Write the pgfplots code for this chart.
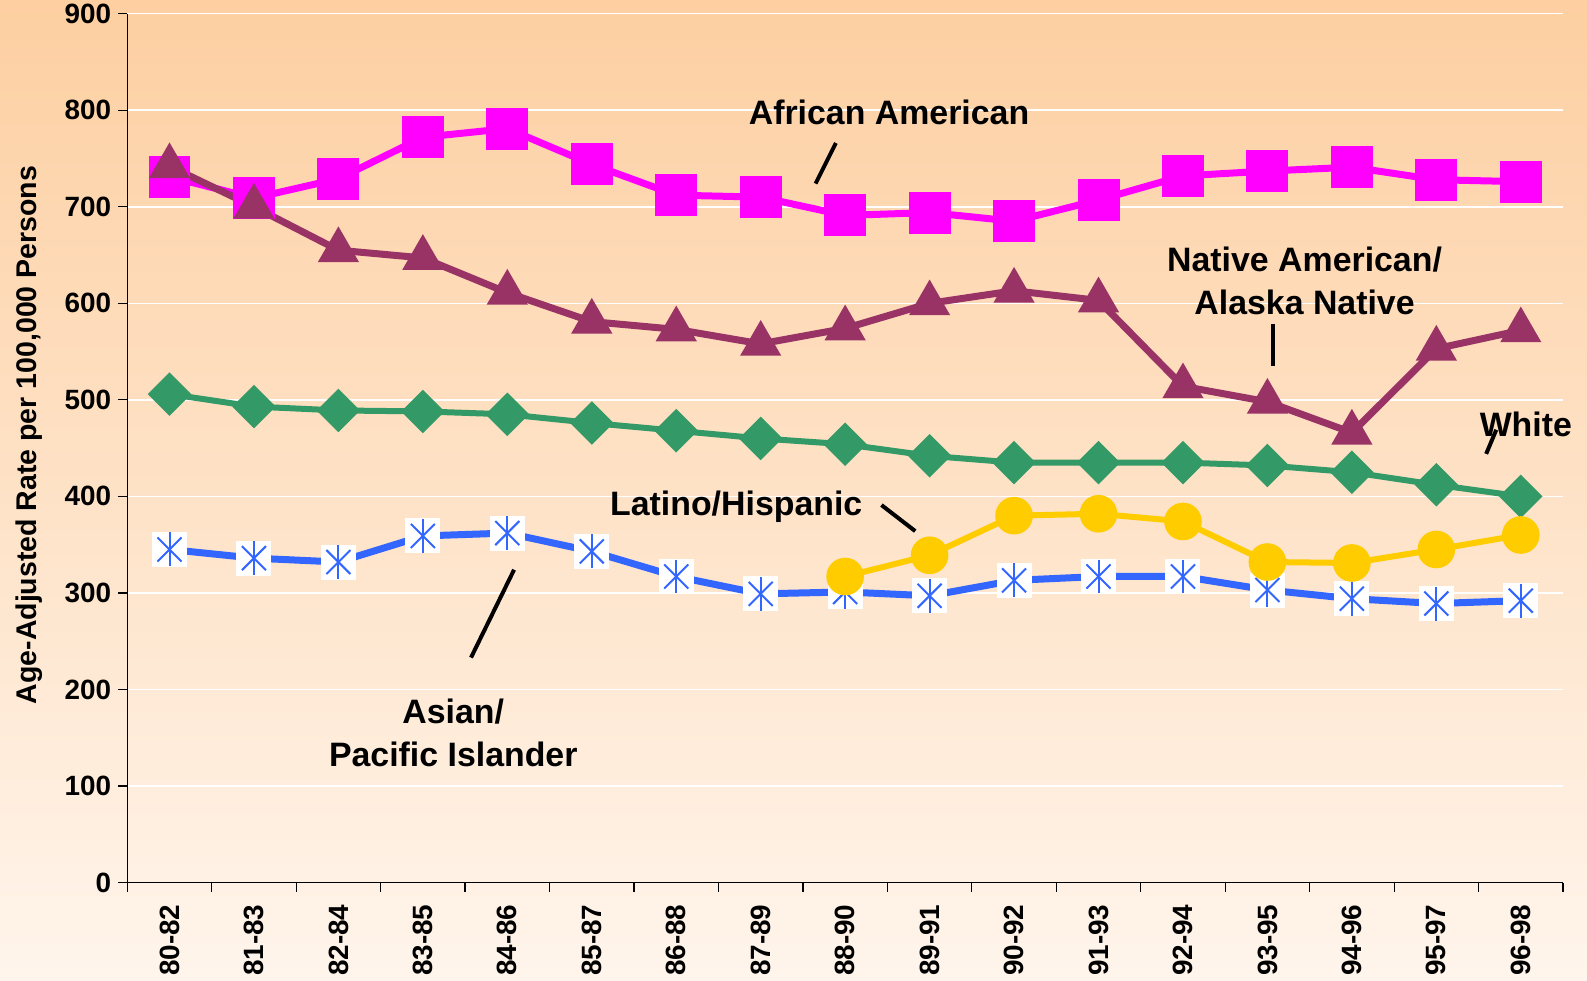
\documentclass[border=0pt]{standalone}
\usepackage{pgfplots}
\usepackage{pgfplotstable}
\pgfplotsset{compat=1.18}
\usepackage{fontspec}
\setmainfont{Liberation Sans}
\usetikzlibrary{backgrounds}
\definecolor{afam}{RGB}{255,0,255}
\definecolor{natam}{RGB}{153,51,102}
\definecolor{whcol}{RGB}{51,153,102}
\definecolor{latcol}{RGB}{255,204,0}
\definecolor{ascol}{RGB}{51,102,255}
\definecolor{bgtop}{RGB}{253,207,161}
\definecolor{bgbot}{RGB}{255,245,236}

\pgfplotstableread{
x aa na wh as
0 731 742 506 345
1 709 700 493 336
2 729 655 489 332
3 772 647 488 359
4 781 611 485 362
5 744 581 476 343
6 712 573 468 317
7 710 558 460 299
8 691 574 454 301
9 694 600 442 297
10 685 613 435 313
11 707 603 435 317
12 732 514 435 317
13 737 498 432 303
14 741 466 425 294
15 728 553 412 289
16 726 572 400 292
}\maindata
\pgfplotstableread{
x lat
8 317
9 339
10 380
11 382
12 374
13 332
14 331
15 345
16 360
}\latdata

\begin{document}
\begin{tikzpicture}
\begin{axis}[
  scale only axis, width=718bp, height=434.5bp,
  xmin=-0.5, xmax=16.5, ymin=0, ymax=900,
  clip=false,
  axis x line*=bottom, axis y line*=left,
  axis line style={-, black, line width=0.6bp},
  xtick={0,...,16},
  xticklabels={80-82,81-83,82-84,83-85,84-86,85-87,86-88,87-89,88-90,89-91,90-92,91-93,92-94,93-95,94-96,95-97,96-98},
  major x tick style={draw=none},
  minor xtick={-0.5,0.5,...,16.5},
  ytick={0,100,...,900},
  ymajorgrids, major grid style={white, line width=0.75bp},
  tick align=outside, major tick length=4.5bp, minor tick length=4.5bp,
  tick style={black, line width=0.6bp},
  /pgf/number format/assume math mode=true,
  yticklabel style={font=\bfseries\fontsize{14}{16}\selectfont},
  xticklabel style={rotate=90, anchor=east, xshift=-3bp, font=\bfseries\fontsize{14}{16}\selectfont},
]
\coordinate (sw) at (rel axis cs:0,0);
\coordinate (ne) at (rel axis cs:1,1);

% Asian / Pacific Islander
\addplot[ascol, line width=3.5bp, mark=none] table[x=x,y=as]{\maindata};
\addplot[white, only marks, mark=square*, mark size=8.5bp, mark options={fill=white, draw=white, line width=0pt}] table[x=x,y=as]{\maindata};
\addplot[only marks, ascol, mark=x, mark size=8.5bp, mark options={line width=1bp}] table[x=x,y=as]{\maindata};
\addplot[only marks, ascol, mark=|, mark size=8.5bp, mark options={line width=1bp}] table[x=x,y=as]{\maindata};
% White
\addplot[whcol, line width=3bp, mark=square*, mark size=6.2bp, mark options={rotate=45, solid, draw=none, fill=whcol}] table[x=x,y=wh]{\maindata};
% Latino
\addplot[latcol, line width=3bp, mark=*, mark size=7.9bp, mark options={draw=none, fill=latcol}] table[x=x,y=lat]{\latdata};
% African American
\addplot[afam, line width=3.5bp, mark=square*, mark size=8.75bp, mark options={draw=none, fill=afam}] table[x=x,y=aa]{\maindata};
% Native American
\addplot[natam, line width=3.5bp, mark=triangle*, mark size=8.4bp, mark options={draw=none, fill=natam}] table[x=x,y=na]{\maindata};

\tikzset{lab/.style={font=\bfseries\fontsize{17}{21.5}\selectfont, align=center}}
\node[lab] at (axis cs:8.52,798) {African American};
\draw[line width=2bp] (axis cs:7.89,766) -- (axis cs:7.65,724);
\node[lab] at (axis cs:13.44,623) {Native American/\\Alaska Native};
\draw[line width=2bp] (axis cs:13.07,579) -- (axis cs:13.07,535);
\node[lab] at (axis cs:16.06,475) {White};
\draw[line width=2bp] (axis cs:15.71,469) -- (axis cs:15.59,444);
\node[lab] at (axis cs:6.71,389) {Latino/Hispanic};
\draw[line width=2bp] (axis cs:8.43,391) -- (axis cs:8.83,364);
\node[lab] at (axis cs:3.36,155) {Asian/\\Pacific Islander};
\draw[line width=2bp] (axis cs:4.08,324) -- (axis cs:3.57,233);

\node[xshift=-49bp, rotate=90, font=\bfseries\fontsize{14.3}{16}\selectfont] at (rel axis cs:0,0.515) {Age-Adjusted Rate per 100,000 Persons};
\end{axis}
\begin{scope}[on background layer]
\shade[top color=bgtop, bottom color=bgbot] ([shift={(-63.65bp,-49.15bp)}]sw) rectangle ([shift={(12bp,6.85bp)}]ne);
\end{scope}
\pgfresetboundingbox
\path ([shift={(-63.65bp,-49.15bp)}]sw) rectangle ([shift={(12bp,6.85bp)}]ne);
\end{tikzpicture}
\end{document}
